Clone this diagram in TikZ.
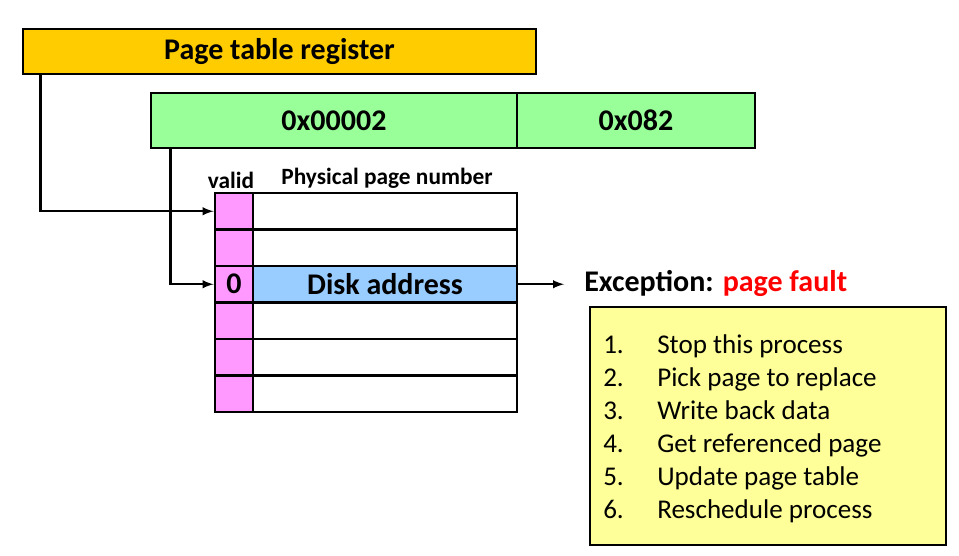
\documentclass[tikz,border=0pt]{standalone}
\usepackage{fontspec}
\setmainfont{Carlito}
\usepackage{tikz}
\usetikzlibrary{positioning, arrows}

\definecolor{regyellow}{HTML}{FFCC00}
\definecolor{vagreen}{HTML}{99FF99}
\definecolor{validpink}{HTML}{FF99FF}
\definecolor{diskblue}{HTML}{99CCFF}
\definecolor{notepad}{HTML}{FFFF99}
\definecolor{faultred}{HTML}{FF0000}

\tikzset{
	box/.style={draw, line width=2.2pt, inner sep=0pt, font=\bfseries\fontsize{22.5}{24}\selectfont},
	validcell/.style={box, fill=validpink, minimum width=28.5pt, minimum height=27.4pt},
	ppncell/.style={box, fill=white, minimum width=198pt, minimum height=27.4pt},
	link/.style={line width=1.8pt, -latex},
	head/.style={font=\bfseries\fontsize{17.5}{19}\selectfont, inner sep=0pt},
	item/.style={anchor=base west, inner sep=0pt, font=\fontsize{20.3}{22}\selectfont},
}

\begin{document}
\begin{tikzpicture}[x=0.75pt, y=-0.75pt]
	\useasboundingbox (0,0) rectangle (959,556);
	\node (ptr) [box, fill=regyellow, minimum width=384.75pt, minimum height=33.75pt] at (279.5,51.5) {Page table register};
	\node (vpn) [box, fill=vagreen, minimum width=274.5pt, minimum height=41.25pt] at (334,120.5) {0x00002};
	\node (off) [box, fill=vagreen, minimum width=178.5pt, minimum height=41.25pt] at (636,120.5) {0x082};
	\foreach \i in {1,...,6} {
		\node (v\i) [validcell] at (234,{211.25+(\i-1)*36.5}) {};
		\node (p\i) [ppncell] at (385,{211.25+(\i-1)*36.5}) {};
	}
	\node at (v3) [font=\bfseries\fontsize{22.5}{24}\selectfont] {0};
	\node (disk) [ppncell, fill=diskblue] at (p3) {Disk address};
	\node (valid) [head] at (231,180) {valid};
	\node (ppn) [head] at (387,178) {Physical page number};
	\node (exc) [anchor=west, inner sep=0pt, font=\bfseries\fontsize{22.5}{24}\selectfont] at (584,283) {Exception: \textcolor{faultred}{page fault}};
	\node (todo) [box, fill=notepad, minimum width=267pt, minimum height=178.5pt] at (768,426) {};
	\foreach \i/\t in {1/Stop this process, 2/Pick page to replace, 3/Write back data,
		4/Get referenced page, 5/Update page table, 6/Reschedule process} {
		\node (n\i) [item] at (603,{353+(\i-1)*33}) {\i.};
		\node (t\i) [item] at (657,{353+(\i-1)*33}) {\t};
	}
	\draw [link] ([xshift=14.25pt]ptr.south west) |- (v1.west);
	\draw [link] ([xshift=15.75pt]vpn.south west) |- (v3.west);
	\draw [link] (disk.east) -- ([xshift=-15pt]disk.east -| exc.west);
\end{tikzpicture}
\end{document}
